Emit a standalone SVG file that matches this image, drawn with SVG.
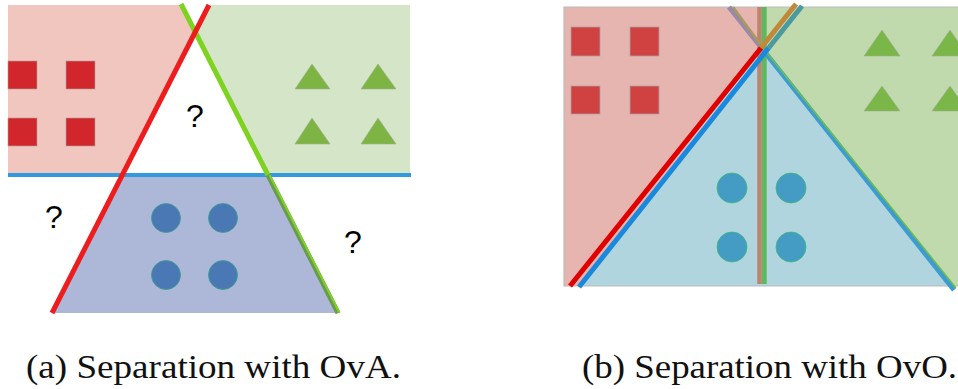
<svg xmlns="http://www.w3.org/2000/svg" width="958" height="389" viewBox="0 0 958 389">
<style>
.sqA{fill:#d2262d;stroke:#b0a0a0;stroke-width:0.6}
.sqB{fill:#d04242;stroke:#a8a0a0;stroke-width:0.8}
.triA{fill:#7db443;stroke:#a0b090;stroke-width:0.6}
.triB{fill:#7ab648;stroke:#a0b090;stroke-width:0.6}
.cirA{fill:#4a78b5;stroke:#3aa08a;stroke-width:0.8}
.cirB{fill:#449cc4;stroke:#3cb878;stroke-width:0.8}
.q{font-family:"Liberation Sans",Arial,sans-serif;font-size:32px;fill:#000;text-anchor:middle}
.cap{font-family:"Liberation Serif","Times New Roman",serif;font-size:33px;fill:#111}
.ln{fill:none;stroke-linecap:butt}
</style>
<g id="panelA">
  <g id="regionsA">
    <polygon id="pinkA" points="8,5 181,5 195,32 122,175 8,175" fill="#f0c6be"/>
    <polygon id="greenA" points="209,5 410,5 410,175 268,175 195,32" fill="#d4e5c8"/>
    <polygon id="blueA" points="122,175 268,175 337,313 52,313" fill="#adb7d8"/>
  </g>
  <g id="squaresA">
    <rect class="sqA" x="8" y="61" width="29" height="28"/>
    <rect class="sqA" x="66" y="61" width="29" height="28"/>
    <rect class="sqA" x="8" y="118" width="29" height="28"/>
    <rect class="sqA" x="66" y="118" width="29" height="28"/>
  </g>
  <g id="trianglesA">
    <polygon class="triA" points="312,64 330,89 295,89"/>
    <polygon class="triA" points="378,64 396,89 361,89"/>
    <polygon class="triA" points="312,118 330,144 295,144"/>
    <polygon class="triA" points="378,118 396,144 361,144"/>
  </g>
  <g id="circlesA">
    <circle class="cirA" cx="166" cy="218" r="14.5"/>
    <circle class="cirA" cx="223" cy="218" r="14.5"/>
    <circle class="cirA" cx="166" cy="275" r="14.5"/>
    <circle class="cirA" cx="223" cy="275" r="14.5"/>
  </g>
  <g id="linesA">
    <line class="ln" x1="8" y1="175" x2="411" y2="175" stroke="#3399dd" stroke-width="4"/>
    <line class="ln" x1="181" y1="4" x2="268" y2="175" stroke="#7ed321" stroke-width="5"/>
    <line class="ln" x1="268" y1="175" x2="338" y2="313" stroke="#6a9a50" stroke-width="5"/>
    <line class="ln" x1="269.5" y1="175" x2="339.5" y2="313" stroke="#7ed321" stroke-width="2"/>
    <line class="ln" x1="209" y1="5" x2="52" y2="313" stroke="#ee1c1c" stroke-width="5"/>
  </g>
  <g id="questions">
    <text class="q" x="195" y="127">?</text>
    <text class="q" x="54" y="228">?</text>
    <text class="q" x="353" y="253">?</text>
  </g>
</g>
<g id="panelB">
  <g id="regionsB">
    <rect id="pinkB" x="564" y="7" width="197" height="279" fill="#e6b5b0"/>
    <rect id="greenB" x="761" y="7" width="197" height="279" fill="#c0d9ad"/>
    <polygon id="blueB" points="763,48 954,286 578,286" fill="#b0d5de"/>
    <polyline points="958,7 564,7 564,286 958,286" fill="none" stroke="#bbbbbb" stroke-width="1.2"/>
  </g>
  <g id="squaresB">
    <rect class="sqB" x="571" y="27" width="29" height="29"/>
    <rect class="sqB" x="630" y="27" width="29" height="29"/>
    <rect class="sqB" x="571" y="86" width="29" height="28"/>
    <rect class="sqB" x="630" y="86" width="29" height="28"/>
  </g>
  <g id="trianglesB">
    <polygon class="triB" points="882,30 900,56 864,56"/>
    <polygon class="triB" points="950,30 968,56 932,56"/>
    <polygon class="triB" points="882,86 900,111 864,111"/>
    <polygon class="triB" points="950,86 968,111 932,111"/>
  </g>
  <g id="circlesB">
    <circle class="cirB" cx="732" cy="188" r="15"/>
    <circle class="cirB" cx="791" cy="188" r="15"/>
    <circle class="cirB" cx="732" cy="247" r="15"/>
    <circle class="cirB" cx="791" cy="247" r="15"/>
  </g>
  <g id="linesB">
    <line class="ln" x1="759.5" y1="7" x2="759.5" y2="284" stroke="#bf826c" stroke-width="4.5"/>
    <line class="ln" x1="764.2" y1="7" x2="764.2" y2="284" stroke="#5fb860" stroke-width="5"/>
    <line class="ln" x1="761.6" y1="48" x2="729" y2="7" stroke="#9a88a8" stroke-width="5"/>
    <line class="ln" x1="763" y1="48" x2="733" y2="7" stroke="#a89a58" stroke-width="2.5"/>
    <line class="ln" x1="954" y1="290" x2="761.6" y2="48" stroke="#3d9bd0" stroke-width="5"/>
    <line class="ln" x1="956" y1="288" x2="763" y2="48" stroke="#6cc04a" stroke-width="1.5"/>
    <line class="ln" x1="768.6" y1="48" x2="802" y2="6" stroke="#4a9aa0" stroke-width="5"/>
    <line class="ln" x1="761" y1="48" x2="796" y2="4" stroke="#c08838" stroke-width="5"/>
    <line class="ln" x1="579" y1="287" x2="768.6" y2="48" stroke="#1a88dd" stroke-width="5"/>
    <line class="ln" x1="570" y1="286" x2="761" y2="48" stroke="#e00000" stroke-width="5"/>
  </g>
</g>
<g id="captions">
  <text class="cap" x="26" y="378" textLength="375" lengthAdjust="spacingAndGlyphs">(a) Separation with OvA.</text>
  <text class="cap" x="582" y="378" textLength="375" lengthAdjust="spacingAndGlyphs">(b) Separation with OvO.</text>
</g>
</svg>
